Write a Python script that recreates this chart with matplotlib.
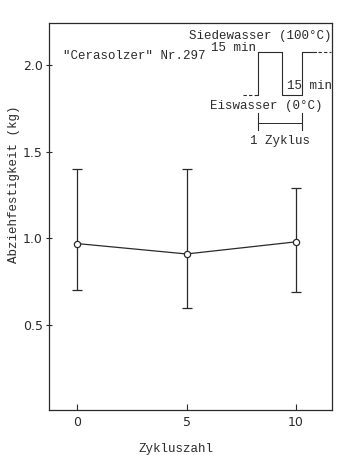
import matplotlib.pyplot as plt
import numpy as np

# Abziehfestigkeit vs. Zykluszahl
cycles = [0, 5, 10]
strength = [0.97, 0.91, 0.98]
err_low = [0.70, 0.60, 0.69]
err_high = [1.40, 1.40, 1.29]
yticks = [0.5, 1.0, 1.5, 2.0]
xticks = [0, 5, 10]

ink = "#2a2a2a"
mono = ["Liberation Mono", "DejaVu Sans Mono"]

fig = plt.figure(figsize=(3.56, 4.55), dpi=100)
ax = fig.add_axes([0.1376, 0.0989, 0.795, 0.8505])

y = np.array(strength)
yerr = [y - np.array(err_low), np.array(err_high) - y]
ax.errorbar(cycles, strength, yerr=yerr, color=ink, lw=0.9, elinewidth=0.9,
            capsize=3.5, capthick=0.9, marker="o", markersize=4.5,
            markerfacecolor="white", markeredgecolor=ink, markeredgewidth=0.9)

ax.set_xlim(-1.28, 11.64)
ax.set_ylim(0.01, 2.242)
ax.set_xticks(xticks)
ax.set_yticks(yticks)
ax.set_yticklabels([f"{v:.1f}" for v in yticks])
ax.tick_params(axis="x", direction="in", length=4, width=0.8, color=ink,
               labelsize=9, pad=4, labelcolor=ink)
ax.tick_params(axis="y", direction="inout", length=5, width=0.8, color=ink,
               labelsize=9, pad=2, labelcolor=ink)
for s in ax.spines.values():
    s.set_color(ink)
    s.set_linewidth(0.9)

ax.set_ylabel("Abziehfestigkeit (kg)", family=mono, fontsize=9, color=ink)
ax.yaxis.set_label_coords(-0.102, 0.584)
ax.set_xlabel("Zykluszahl", family=mono, fontsize=9, color=ink)
ax.xaxis.set_label_coords(0.449, -0.085)

# schematic of one cycle (axes coordinates)
T = ax.transAxes
hi, lo = 0.924, 0.814
ax.plot([0.686, 0.739], [lo, lo], color=ink, lw=0.8, ls=(0, (3, 2)), transform=T)
ax.plot([0.739, 0.739, 0.823, 0.823, 0.894, 0.894, 0.945],
        [lo, hi, hi, lo, lo, hi, hi], color=ink, lw=0.8, transform=T)
ax.plot([0.95, 0.995], [hi, hi], color=ink, lw=0.8, ls=(0, (3, 2)), transform=T)
# 1 Zyklus bracket
ax.plot([0.739, 0.739], [0.724, 0.767], color=ink, lw=0.8, transform=T)
ax.plot([0.894, 0.894], [0.724, 0.767], color=ink, lw=0.8, transform=T)
ax.plot([0.739, 0.894], [0.742, 0.742], color=ink, lw=0.7, transform=T)

kw = dict(transform=T, family=mono, fontsize=9, color=ink, va="center")
ax.text(0.998, 0.966, "Siedewasser (100°C)", ha="right", **kw)
ax.text(0.652, 0.935, "15 min", ha="center", **kw)
ax.text(0.049, 0.915, '"Cerasolzer" Nr.297', ha="left", **kw)
ax.text(0.920, 0.836, "15 min", ha="center", **kw)
ax.text(0.769, 0.786, "Eiswasser (0°C)", ha="center", **kw)
ax.text(0.815, 0.695, "1 Zyklus", ha="center", **kw)

fig.savefig("out.png", dpi=100, facecolor="white")
